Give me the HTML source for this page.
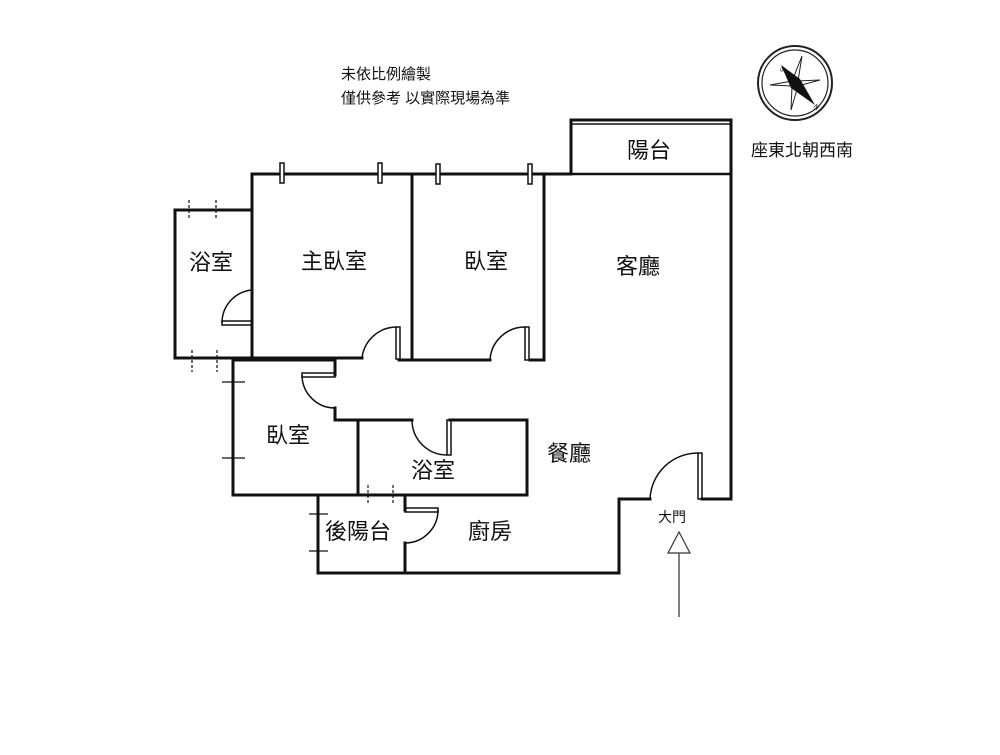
<!DOCTYPE html>
<html><head><meta charset="utf-8"><style>
body{margin:0;background:#fff;}
svg text{font-family:"Liberation Sans","Noto Sans CJK TC",sans-serif;fill:#111;}
</style></head><body>
<svg width="1000" height="750" viewBox="0 0 1000 750" xmlns="http://www.w3.org/2000/svg">
<g fill="none" stroke="#111" stroke-width="3" stroke-linecap="square">
<path d="M252,174 H571"/>
<path d="M571,174 V120 H731 V499 H702"/>
<path d="M571,124 H731" stroke-width="1.5"/>
<path d="M571,174 H731" stroke-width="2.5"/>
<path d="M252,174 V358"/>
<path d="M175,358 H362"/>
<path d="M399,360 H412"/>
<path d="M412,174 V360 H490"/>
<path d="M544,174 V360 H530"/>
<path d="M175,210 H252 M175,210 V358"/>
<path d="M233,358 V495 H527 V420 H450"/>
<path d="M233,360 H335 V375"/>
<path d="M335,408 V420 H412"/>
<path d="M358,420 V495"/>
<path d="M318,495 V573 H619 V499 H650"/>
<path d="M405,495 V510"/>
<path d="M405,543 V573"/>
</g>
<g fill="none" stroke="#111" stroke-width="1.5">
<path d="M252,290 A33,33 0 0 0 222,323"/>
<rect x="222" y="321" width="30" height="4"/>
<path d="M362,358 A35,35 0 0 1 397,327"/>
<rect x="396" y="327" width="4" height="32"/>
<path d="M490,360 A35,35 0 0 1 525,327"/>
<rect x="525" y="327" width="4" height="33"/>
<rect x="302" y="373" width="33" height="4"/>
<path d="M302,375 A33,33 0 0 0 335,408"/>
<path d="M412,420 A35,35 0 0 0 447,455"/>
<rect x="447" y="420" width="4" height="35"/>
<rect x="405" y="508" width="33" height="4"/>
<path d="M438,510 A33,33 0 0 1 405,543"/>
<path d="M650,499 A48,48 0 0 1 698,453"/>
<rect x="698" y="453" width="4" height="46"/>
</g>
<g fill="#fff" stroke="#111" stroke-width="1.5">
<rect x="280" y="163" width="4" height="20"/>
<rect x="378" y="163" width="4" height="20"/>
<rect x="436" y="164" width="4" height="20"/>
<rect x="528" y="164" width="4" height="20"/>
</g>
<g stroke="#111" stroke-width="1.2">
<path d="M189,200 V220 M216,200 V220 M192,350 V372 M217,350 V372" stroke-dasharray="3,2"/>
<path d="M222,382 H245 M222,458 H245 M309,514 H328 M309,551 H328"/>
<path d="M368,485 V505 M393,485 V505" stroke-dasharray="3,2"/>
</g>
<path d="M668,553 L679,532 L690,553 Z" fill="#fff" stroke="#333" stroke-width="1.2"/>
<path d="M679,553 V617" stroke="#555" stroke-width="1.5"/>
<g transform="translate(795,83)">
<circle r="37" fill="none" stroke="#222" stroke-width="2"/>
<circle r="33" fill="none" stroke="#222" stroke-width="1.2"/>
<path d="M-25,2 L-3,-2 L7,-27 L3,-2 L25,-3 L3,3 L-4,27 L-3,3 Z" fill="none" stroke="#222" stroke-width="1"/>
<path d="M-14,-18 L5,-4 L20,22 L-4,5 Z" fill="#111"/>
<text x="-16" y="-14" font-size="7" transform="rotate(45 -16 -14)">S</text>
<text x="18" y="24" font-size="7" transform="rotate(45 18 24)">N</text>
</g>
<g font-size="22">
<text x="189" y="270">浴室</text>
<text x="301" y="269">主臥室</text>
<text x="464" y="269">臥室</text>
<text x="616" y="274">客廳</text>
<text x="627" y="158">陽台</text>
<text x="266" y="443">臥室</text>
<text x="411" y="478">浴室</text>
<text x="547" y="461">餐廳</text>
<text x="325" y="539">後陽台</text>
<text x="468" y="539">廚房</text>
</g>
<text x="658" y="522" font-size="14">大門</text>
<text x="751" y="156" font-size="17">座東北朝西南</text>
<text x="341" y="79" font-size="15">未依比例繪製</text>
<text x="341" y="103" font-size="15">僅供參考 以實際現場為準</text>
</svg>
</body></html>
